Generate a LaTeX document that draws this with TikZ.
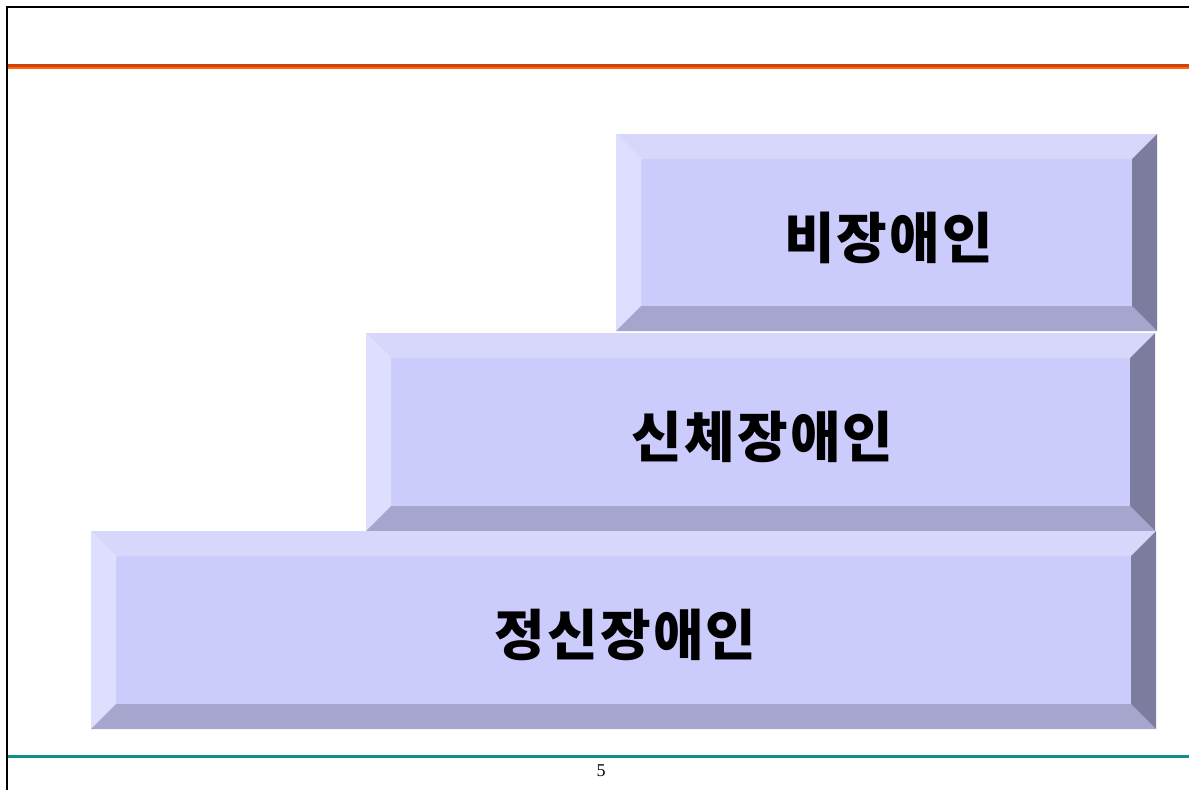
\documentclass[tikz,border=0pt]{standalone}
\usepackage{fontspec}
\newfontfamily\krfont{Noto Sans CJK KR}[LetterSpace=4]
\setmainfont{Liberation Serif}
\definecolor{bvTop}{HTML}{D7D7FB}
\definecolor{bvLeft}{HTML}{DEDEFE}
\definecolor{bvMid}{HTML}{CCCCFC}
\definecolor{bvBot}{HTML}{A5A5CD}
\definecolor{bvRight}{HTML}{7C7C9E}
\definecolor{orangeDark}{HTML}{D04010}
\definecolor{orangeLight}{HTML}{FF6A00}
\definecolor{tealLine}{HTML}{10908A}
\tikzset{
  boxlabel/.style={font=\krfont\bfseries\fontsize{55}{60}\selectfont, text=black, inner sep=0pt},
}
\newcommand{\bevelbox}[6]{%
  % #1 name, #2 x1, #3 y1, #4 x2, #5 y2, #6 text ; bevel 25
  \fill[bvMid] (#2+25,#3+25) rectangle (#4-25,#5-25);
  \fill[bvTop] (#2,#3) -- (#4,#3) -- (#4-25,#3+25) -- (#2+25,#3+25) -- cycle;
  \fill[bvLeft] (#2,#3) -- (#2+25,#3+25) -- (#2+25,#5-25) -- (#2,#5) -- cycle;
  \fill[bvBot] (#2,#5) -- (#2+25,#5-25) -- (#4-25,#5-25) -- (#4,#5) -- cycle;
  \fill[bvRight] (#4,#3) -- (#4,#5) -- (#4-25,#5-25) -- (#4-25,#3+25) -- cycle;
  \node[boxlabel] (#1) at ({(#2+#4)/2+2},{(#3+#5)/2+5}) {#6};
}
\begin{document}
\begin{tikzpicture}[x=1pt,y=-1pt]
\useasboundingbox (0,0) rectangle (1189,790);
\fill[white] (0,0) rectangle (1189,790);
% frame
\draw[black,line width=2pt] (7,790) -- (7,7) -- (1189,7);
% orange rule
\fill[orangeDark] (8,64) rectangle (1189,66.5);
\fill[orangeLight] (8,66.5) rectangle (1189,69);
% teal rule
\fill[tealLine] (8,755) rectangle (1189,757.5);
\node[font=\fontsize{18}{20}\selectfont, inner sep=0pt] (pagenum) at (601,771) {5};
% boxes
\bevelbox{nonDisabled}{616}{134}{1157}{331}{비장애인}
\bevelbox{physical}{366}{333}{1155}{531}{신체장애인}
\bevelbox{mental}{91}{531}{1156}{729}{정신장애인}
\end{tikzpicture}
\end{document}
